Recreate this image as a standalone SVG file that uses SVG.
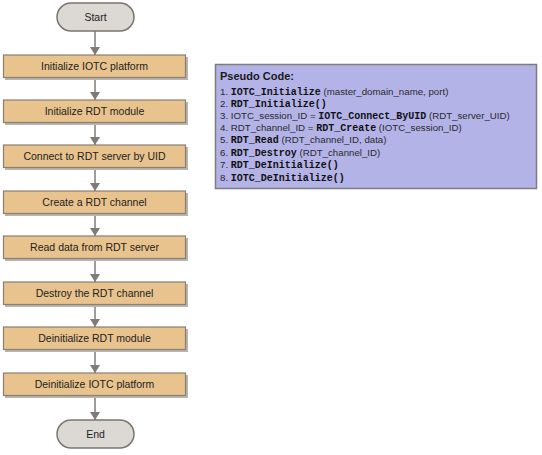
<svg xmlns="http://www.w3.org/2000/svg" width="542" height="455" viewBox="0 0 542 455">
<style>
.box{fill:#e9c38d;stroke:#8a7f73;stroke-width:1.2}
.term{fill:#dcd8d3;stroke:#7a7570;stroke-width:1.5}
.sh{fill:#b8b4b0}
.lbl{font-family:"Liberation Sans",Arial,sans-serif;font-size:10.5px;fill:#222222;text-anchor:middle}
.conn{stroke:#7f7b78;stroke-width:1.5;fill:none}
.code{font-family:"Liberation Sans",Arial,sans-serif;font-size:9.7px;fill:#2a2a2a}
.mono{font-family:"Liberation Mono","Courier New",monospace;font-weight:bold;font-size:10px;fill:#111}
</style>
<defs>
<marker id="ah" markerWidth="8" markerHeight="10" refX="8" refY="5" orient="auto" markerUnits="userSpaceOnUse" viewBox="0 0 8 10">
<path d="M0,0 L8,5 L0,10 z" fill="#7f7b78"/>
</marker>
</defs>
<rect width="542" height="455" fill="#ffffff"/>
<g id="connectors">
<line class="conn" x1="95" y1="31" x2="95" y2="55" marker-end="url(#ah)"/>
<line class="conn" x1="95" y1="77" x2="95" y2="100" marker-end="url(#ah)"/>
<line class="conn" x1="95" y1="123" x2="95" y2="145" marker-end="url(#ah)"/>
<line class="conn" x1="95" y1="168" x2="95" y2="191" marker-end="url(#ah)"/>
<line class="conn" x1="95" y1="214" x2="95" y2="236" marker-end="url(#ah)"/>
<line class="conn" x1="95" y1="259" x2="95" y2="282" marker-end="url(#ah)"/>
<line class="conn" x1="95" y1="305" x2="95" y2="327" marker-end="url(#ah)"/>
<line class="conn" x1="95" y1="350" x2="95" y2="373" marker-end="url(#ah)"/>
<line class="conn" x1="95" y1="396" x2="95" y2="420" marker-end="url(#ah)"/>
</g>
<g id="start">
<rect class="term" x="57" y="3" width="77" height="28" rx="14"/>
<text class="lbl" x="95.5" y="21">Start</text>
</g>
<g id="n1">
<rect class="sh" x="5" y="57" width="183" height="23"/>
<rect class="box" x="3.5" y="55" width="182" height="22.5"/>
<text class="lbl" x="94.5" y="70">Initialize IOTC platform</text>
</g>
<g id="n2">
<rect class="sh" x="5" y="102" width="183" height="23"/>
<rect class="box" x="3.5" y="100" width="182" height="22.5"/>
<text class="lbl" x="94.5" y="115">Initialize RDT module</text>
</g>
<g id="n3">
<rect class="sh" x="5" y="147" width="183" height="23"/>
<rect class="box" x="3.5" y="145" width="182" height="22.5"/>
<text class="lbl" x="94.5" y="160">Connect to RDT server by UID</text>
</g>
<g id="n4">
<rect class="sh" x="5" y="193" width="183" height="23"/>
<rect class="box" x="3.5" y="191" width="182" height="22.5"/>
<text class="lbl" x="94.5" y="206">Create a RDT channel</text>
</g>
<g id="n5">
<rect class="sh" x="5" y="238" width="183" height="23"/>
<rect class="box" x="3.5" y="236" width="182" height="22.5"/>
<text class="lbl" x="94.5" y="251">Read data from RDT server</text>
</g>
<g id="n6">
<rect class="sh" x="5" y="284" width="183" height="23"/>
<rect class="box" x="3.5" y="282" width="182" height="22.5"/>
<text class="lbl" x="94.5" y="297">Destroy the RDT channel</text>
</g>
<g id="n7">
<rect class="sh" x="5" y="329" width="183" height="23"/>
<rect class="box" x="3.5" y="327" width="182" height="22.5"/>
<text class="lbl" x="94.5" y="342">Deinitialize RDT module</text>
</g>
<g id="n8">
<rect class="sh" x="5" y="375" width="183" height="23"/>
<rect class="box" x="3.5" y="373" width="182" height="22.5"/>
<text class="lbl" x="94.5" y="388">Deinitialize IOTC platform</text>
</g>
<g id="end">
<rect class="term" x="57" y="420" width="77" height="28" rx="14"/>
<text class="lbl" x="95.5" y="438">End</text>
</g>
<g id="pseudo">
<rect x="215.5" y="64.5" width="321" height="124" fill="#b3b3e8" stroke="#7d7d7d" stroke-width="1.5"/>
<text x="220" y="79.5" font-family="'Liberation Sans',Arial,sans-serif" font-size="11px" font-weight="bold" fill="#1a1a1a">Pseudo Code:</text>
<text class="code" x="220" y="95">1. <tspan class="mono">IOTC_Initialize</tspan> (master_domain_name, port)</text>
<text class="code" x="220" y="107">2. <tspan class="mono">RDT_Initialize()</tspan></text>
<text class="code" x="220" y="119">3. IOTC_session_ID = <tspan class="mono">IOTC_Connect_ByUID</tspan> (RDT_server_UID)</text>
<text class="code" x="220" y="131">4. RDT_channel_ID = <tspan class="mono">RDT_Create</tspan> (IOTC_session_ID)</text>
<text class="code" x="220" y="143">5. <tspan class="mono">RDT_Read</tspan> (RDT_channel_ID, data)</text>
<text class="code" x="220" y="156">6. <tspan class="mono">RDT_Destroy</tspan> (RDT_channel_ID)</text>
<text class="code" x="220" y="168">7. <tspan class="mono">RDT_DeInitialize()</tspan></text>
<text class="code" x="220" y="180.5">8. <tspan class="mono">IOTC_DeInitialize()</tspan></text>
</g>
</svg>
